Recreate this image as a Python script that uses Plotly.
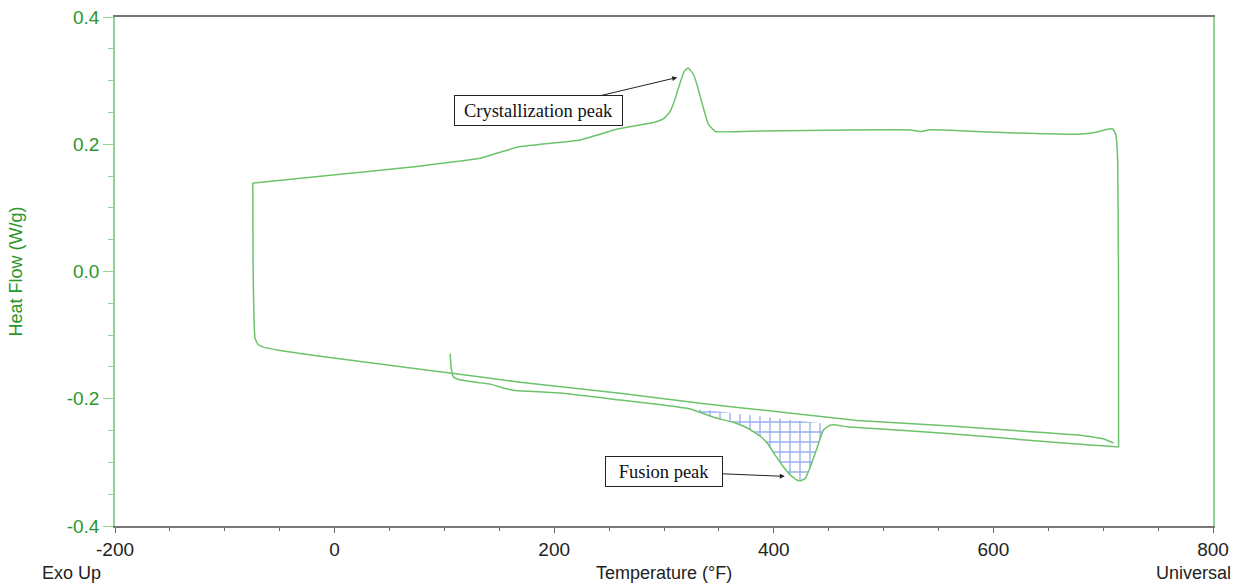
import plotly.graph_objects as go

# First heating (starts at 105 °F, contains the fusion peak)
heat1_x = [105.2, 106.2, 108.0, 111.6, 123.5, 141.7, 155.4, 164.5, 205.5, 260.2, 299.4, 324.0, 345.0, 365.0,
           375.9, 387.8, 394.1, 401.4, 408.7, 415.0, 421.5, 424.2, 428.8, 433.3, 437.0, 439.7, 442.5, 445.2,
           449.7, 454.3, 467.0, 476.2, 561.0, 652.0, 682.0, 700.0, 714.0]
heat1_y = [-0.129, -0.152, -0.165, -0.169, -0.173, -0.177, -0.184, -0.187, -0.191, -0.202, -0.210, -0.216,
           -0.229, -0.238, -0.246, -0.259, -0.270, -0.289, -0.307, -0.320, -0.328, -0.329, -0.325, -0.307,
           -0.289, -0.276, -0.261, -0.249, -0.243, -0.241, -0.244, -0.245, -0.255, -0.268, -0.272, -0.274, -0.276]

# Reversal and cooling (crystallization peak)
cool_x = [714.0, 714.0, 713.2, 711.4, 708.7, 704.0, 694.9, 676.7, 645.7, 618.3, 588.2, 560.9, 540.8, 533.6,
          524.4, 469.8, 387.8, 346.8, 340.4, 334.9, 330.4, 326.8, 322.2, 318.5, 313.1, 309.4, 305.8, 300.4,
          292.2, 257.5, 223.7, 169.1, 144.7, 132.6, 65.8, 5.0, -74.5]
cool_y = [-0.276, -0.046, 0.174, 0.216, 0.224, 0.2235, 0.2193, 0.2157, 0.2166, 0.2177, 0.2198, 0.2220, 0.2225,
          0.2200, 0.2225, 0.2225, 0.2209, 0.2201, 0.2317, 0.263, 0.2915, 0.310, 0.3197, 0.315, 0.288, 0.268,
          0.252, 0.241, 0.235, 0.224, 0.2068, 0.1963, 0.1844, 0.1781, 0.1634, 0.1530, 0.1389]

# Second heating from -75 °F
heat2_x = [-74.5, -74.3, -73.4, -72.5, -69.7, -64.2, -49.7, -13.2, 78.0, 107.0, 169.0, 260.0, 333.0,
           405.7, 476.0, 561.0, 652.0, 682.0, 700.0, 709.4]
heat2_y = [0.1389, 0.017, -0.0767, -0.105, -0.1146, -0.1193, -0.124, -0.1333, -0.1538, -0.160, -0.174,
           -0.1913, -0.207, -0.221, -0.234, -0.243, -0.254, -0.258, -0.263, -0.2696]

# Integrated fusion peak region (hatched)
peak_x = [299.4, 324.0, 345.0, 365.0, 375.9, 387.8, 394.1, 401.4, 408.7, 415.0, 421.5, 424.2, 428.8,
          433.3, 437.0, 439.7, 442.5, 445.2, 449.7, 454.3, 467.0, 476.2, 299.4]
peak_y = [-0.210, -0.216, -0.229, -0.238, -0.246, -0.259, -0.270, -0.289, -0.307, -0.320, -0.328, -0.329,
          -0.325, -0.307, -0.289, -0.276, -0.261, -0.249, -0.243, -0.241, -0.244, -0.245, -0.210]

xticks = [-200, 0, 200, 400, 600, 800]
xtick_text = ["-200", "0", "200", "400", "600", "800"]
yticks = [-0.4, -0.2, 0.0, 0.2, 0.4]
ytick_text = ["-0.4", "-0.2", "0.0", "0.2", "0.4"]

GREEN = "#6cc36c"
LGREEN = "#92d292"
fig = go.Figure()
fig.add_trace(go.Scatter(x=peak_x, y=peak_y, mode="lines", fill="toself", line=dict(width=0),
                         fillcolor="rgba(0,0,0,0)",
                         fillpattern=dict(shape="+", fgcolor="#2f5fe0", bgcolor="rgba(0,0,0,0)",
                                          size=10, solidity=0.25),
                         hoverinfo="skip", showlegend=False))
for xs, ys in [(heat1_x, heat1_y), (cool_x, cool_y), (heat2_x, heat2_y)]:
    fig.add_trace(go.Scatter(x=xs, y=ys, mode="lines",
                             line=dict(color=GREEN, width=1.5, shape="spline", smoothing=0.35),
                             showlegend=False))

fig.update_layout(
    width=1244, height=584, margin=dict(l=115, r=31, t=17, b=58),
    paper_bgcolor="white", plot_bgcolor="white",
    font=dict(family="Liberation Sans, Arial", size=18, color="#222"),
    xaxis=dict(range=[-200, 800], tickvals=xticks, ticktext=xtick_text, ticks="outside", ticklen=5,
               tickcolor="#666", showgrid=False, zeroline=False, showline=True, linecolor="#777",
               linewidth=1.5, mirror=True, automargin=False,
               minor=dict(dtick=50, ticks="outside", ticklen=3, tickcolor="#666"),
               tickfont=dict(size=19, color="#222")),
    yaxis=dict(range=[-0.4, 0.4], tickvals=yticks, ticktext=ytick_text, ticks="outside", ticklen=10,
               tickcolor=LGREEN, showgrid=False, zeroline=False, showline=True, linecolor=LGREEN,
               linewidth=1.5, mirror=True, automargin=False,
               minor=dict(dtick=0.05, ticks="outside", ticklen=5, tickcolor=LGREEN),
               tickfont=dict(size=19, color="#2a962a")),
)

fig.add_annotation(text="Temperature (°F)", xref="paper", yref="paper", x=0.5, y=-0.092,
                   showarrow=False, font=dict(size=18, color="#222"), yanchor="middle")
fig.add_annotation(text="Exo Up", xref="paper", yref="paper", x=-0.040, y=-0.092,
                   showarrow=False, font=dict(size=18, color="#222"), yanchor="middle", xanchor="center")
fig.add_annotation(text="Universal", xref="paper", yref="paper", x=1.018, y=-0.092,
                   showarrow=False, font=dict(size=18, color="#222"), yanchor="middle", xanchor="right")
fig.add_annotation(text="Heat Flow (W/g)", xref="paper", yref="paper", x=-0.091, y=0.5,
                   textangle=-90, showarrow=False, font=dict(size=18, color="#2a962a"),
                   xanchor="center", yanchor="middle")

fig.add_annotation(text="Crystallization peak", x=312, y=0.305, ax=-139, ay=33,
                   showarrow=True, arrowhead=2, arrowsize=1, arrowwidth=1, arrowcolor="#222",
                   bordercolor="#222", borderwidth=1, borderpad=3, bgcolor="white", width=161, height=23,
                   font=dict(family="Liberation Serif, Times New Roman", size=18.5, color="#111"))
fig.add_annotation(text="Fusion peak", x=410, y=-0.322, ax=-121, ay=-5,
                   showarrow=True, arrowhead=2, arrowsize=1, arrowwidth=1, arrowcolor="#222",
                   bordercolor="#222", borderwidth=1, borderpad=3, bgcolor="white", width=110, height=23,
                   font=dict(family="Liberation Serif, Times New Roman", size=18.5, color="#111"))

fig.write_html("out.html")
